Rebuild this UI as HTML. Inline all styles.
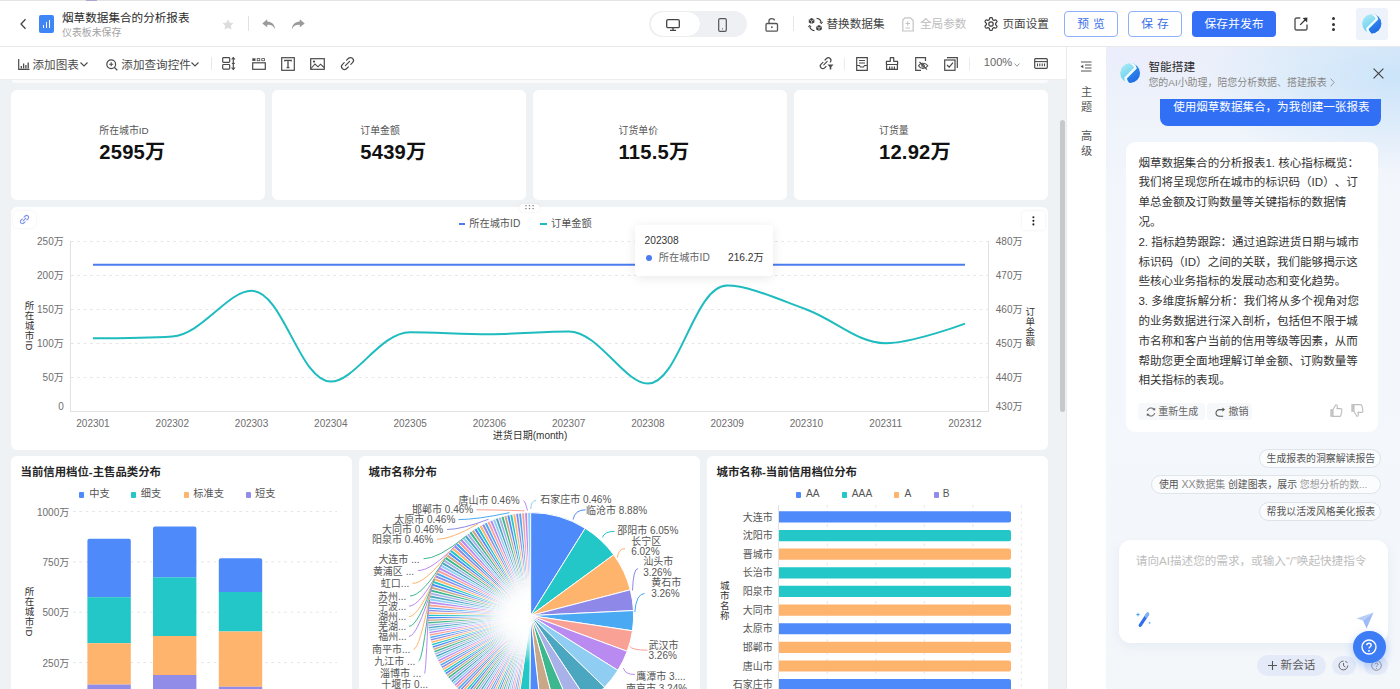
<!DOCTYPE html>
<html lang="zh-CN">
<head>
<meta charset="utf-8">
<title>烟草数据集合的分析报表</title>
<style>
*{box-sizing:border-box;margin:0;padding:0}
html,body{width:1400px;height:689px;overflow:hidden}
body{position:relative;background:#eff2f5;text-spacing-trim:space-all;font-family:"Liberation Sans","Noto Sans CJK SC",sans-serif;color:#333}
.a{position:absolute}
.t{position:absolute;white-space:nowrap;line-height:1}
svg{display:block;overflow:visible}
#hdr{left:0;top:0;width:1400px;height:47px;background:#fff;border-bottom:1px solid #e9e9ec}
#tb{left:0;top:47px;width:1066px;height:33px;background:#fff;border-bottom:1px solid #ebedf0}
.btn{position:absolute;top:11px;height:26px;border-radius:4px;font-size:11.8px;text-align:center;line-height:24px}
.card{position:absolute;background:#fff;border-radius:6px}
.kl{font-size:9.9px;color:#555}
.kv{font-size:20.2px;font-weight:bold;color:#111;letter-spacing:0.2px}
.ax{font-size:10px;color:#6e6e6e}
.ttl{font-size:11.4px;font-weight:bold;color:#262626}
.lg{font-size:10.2px;color:#555}
#side{left:1066px;top:47px;width:40px;height:642px;background:#fff;border-left:1px solid #e8eaee}
#ai{left:1106px;top:47px;width:294px;height:642px;background:#f4f7fa;overflow:hidden}
.msg{font-size:11.55px;color:#333;line-height:19.8px}
.pill{position:absolute;height:19px;border:1px solid #dfe3ea;border-radius:10px;background:rgba(255,255,255,.6);font-size:9.9px;color:#555;line-height:17.5px;padding:0 6.5px;white-space:nowrap}
</style>
</head>
<body>
<!-- HEADER -->
<div id="hdr" class="a">
  <div class="a" style="left:0;top:0;width:1400px;height:1px;background:#e4e4e6"></div>
  <div class="a" style="left:86px;top:0;width:11px;height:1px;background:#a9a6d6"></div>
  <!-- back arrow -->
  <svg class="a" style="left:19px;top:18px" width="9" height="12" viewBox="0 0 9 12"><path d="M6.5 1.2 L2 6 L6.5 10.8" fill="none" stroke="#444" stroke-width="1.3"/></svg>
  <!-- logo -->
  <div class="a" style="left:38.5px;top:15px;width:15px;height:17.5px;border-radius:2px;background:#3f86f5"></div>
  <div class="a" style="left:42.5px;top:24.5px;width:1.6px;height:3.5px;background:#fff"></div>
  <div class="a" style="left:45.5px;top:22px;width:1.6px;height:6px;background:#fff"></div>
  <div class="a" style="left:48.5px;top:19.5px;width:1.6px;height:8.5px;background:#fff"></div>
  <div class="t" style="left:62px;top:11.9px;font-size:11.6px;color:#2b2b2b">烟草数据集合的分析报表</div>
  <div class="t" style="left:62px;top:28.4px;font-size:9.9px;color:#a3a3a3">仪表板未保存</div>
  <!-- star -->
  <svg class="a" style="left:222px;top:18.5px" width="12" height="11" viewBox="0 0 12 11"><path d="M6 0.3 L7.7 3.7 L11.5 4.1 L8.7 6.7 L9.5 10.6 L6 8.7 L2.5 10.6 L3.3 6.7 L0.5 4.1 L4.3 3.7 Z" fill="#dcdcdc"/></svg>
  <div class="a" style="left:248px;top:16px;width:1px;height:15px;background:#e2e2e2"></div>
  <!-- undo / redo -->
  <svg class="a" style="left:262px;top:18.5px" width="14" height="11" viewBox="0 0 14 11"><path d="M5.2 0.3 L0.3 4.4 L5.2 8.3 L5.2 5.9 C9 5.6 11.5 7 13.2 10.5 C12.8 6 10.3 2.8 5.2 2.6 Z" fill="#9a9a9a"/></svg>
  <svg class="a" style="left:291px;top:18.5px" width="14" height="11" viewBox="0 0 14 11"><path d="M8.8 0.3 L13.7 4.4 L8.8 8.3 L8.8 5.9 C5 5.6 2.5 7 0.8 10.5 C1.2 6 3.7 2.8 8.8 2.6 Z" fill="#9a9a9a"/></svg>
  <!-- device toggle -->
  <div class="a" style="left:649px;top:11px;width:98px;height:26px;border-radius:13px;background:#eef0f3"></div>
  <div class="a" style="left:650.5px;top:12.2px;width:49px;height:23.6px;border-radius:12px;background:#fff;box-shadow:0 0 1px rgba(0,0,0,.08)"></div>
  <svg class="a" style="left:666px;top:18.5px" width="14" height="12" viewBox="0 0 14 12"><rect x="0.7" y="0.7" width="12.6" height="8" rx="1.3" fill="none" stroke="#444" stroke-width="1.3"/><path d="M7 8.7 V11 M4 11.3 H10" stroke="#444" stroke-width="1.3"/></svg>
  <svg class="a" style="left:718px;top:17.5px" width="9" height="14" viewBox="0 0 9 14"><rect x="0.7" y="0.7" width="7.6" height="12.6" rx="1.3" fill="none" stroke="#555" stroke-width="1.2"/><circle cx="4.5" cy="10.8" r="0.6" fill="#555"/></svg>
  <!-- lock -->
  <svg class="a" style="left:765px;top:16.5px" width="14" height="15" viewBox="0 0 14 15"><path d="M4 6.5 V3.8 C4 1 9.5 1 9.5 3.5" fill="none" stroke="#555" stroke-width="1.3"/><rect x="1" y="6.5" width="11.5" height="7.6" rx="1.2" fill="none" stroke="#555" stroke-width="1.3"/><rect x="6.1" y="9.3" width="1.5" height="1.8" fill="#555"/></svg>
  <div class="a" style="left:793px;top:16px;width:1px;height:15px;background:#e6e6e6"></div>
  <!-- 替换数据集 -->
  <svg class="a" style="left:808px;top:16.5px" width="15" height="15" viewBox="0 0 15 15"><path d="M3.6 0.8999999999999999 L6.4 2.4 L6.4 5.6 L3.6 7.1 L0.8000000000000003 5.6 L0.8000000000000003 2.4 Z" fill="#3d3d3d"/><path d="M1.0 2.5 L3.6 4 L6.2 2.5 M3.6 4 V7" stroke="#fff" stroke-width="0.6" fill="none"/><path d="M11 7.9 L13.8 9.4 L13.8 12.6 L11 14.1 L8.2 12.6 L8.2 9.4 Z" fill="#3d3d3d"/><path d="M8.4 9.5 L11 11 L13.6 9.5 M11 11 V14" stroke="#fff" stroke-width="0.6" fill="none"/><path d="M8.6 1.4 C11 1.6 12.8 3.2 13.3 5.6" fill="none" stroke="#3d3d3d" stroke-width="1.15"/><path d="M11.8 5 L13.4 6.8 L14.6 4.8" fill="none" stroke="#3d3d3d" stroke-width="1"/><path d="M6.4 13.6 C4 13.4 2.2 11.8 1.7 9.4" fill="none" stroke="#3d3d3d" stroke-width="1.15"/><path d="M3.2 10 L1.6 8.2 L0.4 10.2" fill="none" stroke="#3d3d3d" stroke-width="1"/></svg>
  <div class="t" style="left:826.5px;top:17.5px;font-size:11.6px;color:#444">替换数据集</div>
  <svg class="a" style="left:901.5px;top:16.5px" width="12" height="15" viewBox="0 0 12 15"><path d="M3 0.8 H8.5 L11.2 3.5 V14 H0.8 V3 Z" fill="none" stroke="#c4c4c4" stroke-width="1.2"/><path d="M3.5 6.5 H8 M5.75 4.3 V8.7 M3.5 11 H8" stroke="#c4c4c4" stroke-width="1.1"/></svg>
  <div class="t" style="left:920px;top:17.5px;font-size:11.6px;color:#bdbdbd">全局参数</div>
  <svg class="a" style="left:983.5px;top:16.5px" width="14" height="14" viewBox="0 0 14 14"><path d="M7.00 0.50 L7.45 0.52 L7.90 0.56 L8.25 1.11 L8.49 1.82 L8.64 2.50 L8.87 2.80 L9.16 2.94 L9.44 3.10 L9.70 3.28 L10.08 3.33 L10.74 3.12 L11.47 2.97 L12.12 3.00 L12.39 3.37 L12.63 3.75 L12.84 4.15 L13.03 4.57 L12.73 5.14 L12.23 5.70 L11.72 6.17 L11.57 6.52 L11.60 6.84 L11.60 7.16 L11.57 7.48 L11.72 7.83 L12.23 8.30 L12.73 8.86 L13.03 9.43 L12.84 9.85 L12.63 10.25 L12.39 10.63 L12.12 11.00 L11.47 11.03 L10.74 10.88 L10.08 10.67 L9.70 10.72 L9.44 10.90 L9.16 11.06 L8.87 11.20 L8.64 11.50 L8.49 12.18 L8.25 12.89 L7.90 13.44 L7.45 13.48 L7.00 13.50 L6.55 13.48 L6.10 13.44 L5.75 12.89 L5.51 12.18 L5.36 11.50 L5.13 11.20 L4.84 11.06 L4.56 10.90 L4.30 10.72 L3.92 10.67 L3.26 10.88 L2.53 11.03 L1.88 11.00 L1.61 10.63 L1.37 10.25 L1.16 9.85 L0.97 9.43 L1.27 8.86 L1.77 8.30 L2.28 7.83 L2.43 7.48 L2.40 7.16 L2.40 6.84 L2.43 6.52 L2.28 6.17 L1.77 5.70 L1.27 5.14 L0.97 4.57 L1.16 4.15 L1.37 3.75 L1.61 3.37 L1.88 3.00 L2.53 2.97 L3.26 3.12 L3.92 3.33 L4.30 3.28 L4.56 3.10 L4.84 2.94 L5.13 2.80 L5.36 2.50 L5.51 1.82 L5.75 1.11 L6.10 0.56 L6.55 0.52 Z" fill="none" stroke="#444" stroke-width="1.25" stroke-linejoin="round"/><circle cx="7" cy="7" r="2.2" fill="none" stroke="#444" stroke-width="1.25"/></svg>
  <div class="t" style="left:1002.5px;top:17.5px;font-size:11.6px;color:#444">页面设置</div>
  <!-- buttons -->
  <div class="btn" style="left:1064px;width:54px;border:1px solid #8fb1f7;color:#3a6fe8;letter-spacing:4px;text-indent:4px">预览</div>
  <div class="btn" style="left:1128px;width:54px;border:1px solid #8fb1f7;color:#3a6fe8;letter-spacing:4px;text-indent:4px">保存</div>
  <div class="btn" style="left:1192px;width:84px;background:#3370f5;color:#fff;line-height:26px">保存并发布</div>
  <svg class="a" style="left:1294px;top:17px" width="14" height="14" viewBox="0 0 14 14"><path d="M6.3 1 H2.5 C1.6 1 1 1.6 1 2.5 V11.5 C1 12.4 1.6 13 2.5 13 H11.5 C12.4 13 13 12.4 13 11.5 V7.5" fill="none" stroke="#555" stroke-width="1.4"/><path d="M6.2 7.8 L11.5 2.5" fill="none" stroke="#333" stroke-width="1.2"/><path d="M13.4 0.6 L13.1 5.4 L8.6 0.9 Z" fill="#333"/></svg>
  <div class="a" style="left:1332px;top:16.5px;width:3px;height:3px;border-radius:2px;background:#333"></div>
  <div class="a" style="left:1332px;top:22.5px;width:3px;height:3px;border-radius:2px;background:#333"></div>
  <div class="a" style="left:1332px;top:28.4px;width:3px;height:3px;border-radius:2px;background:#333"></div>
  <div class="a" style="left:1355.5px;top:7.5px;width:32.5px;height:32.5px;border-radius:3px;background:#eef2fb"></div>
  <svg class="a" style="left:1361.7px;top:14.2px" width="19.4" height="19.4" viewBox="0 0 20 20"><defs><linearGradient id="lgha" x1="0" y1="0" x2="0.6" y2="1"><stop offset="0" stop-color="#b5eef8"/><stop offset="1" stop-color="#55c8ea"/></linearGradient><linearGradient id="lghb" x1="0.3" y1="0" x2="0.7" y2="1"><stop offset="0" stop-color="#3f95f0"/><stop offset="1" stop-color="#1c66e2"/></linearGradient><clipPath id="cph"><circle cx="10" cy="10" r="10"/></clipPath></defs><g clip-path="url(#cph)"><circle cx="10" cy="10" r="10" fill="url(#lgha)"/><path d="M11.8 0.2 C14.5 1 16.4 3 16.8 5.6 L7.2 15.4 C7.2 17 8 18.8 9.6 20.5 L21 20.5 L21 -0.5 Z" fill="url(#lghb)"/><path d="M10.6 -0.4 C13.2 0.8 15 2.8 15.4 5.2 L5.4 15 C5.6 17.2 7 19.2 8.8 20.8" fill="none" stroke="#f4fbff" stroke-width="2.4" stroke-linejoin="round"/></g></svg>
</div>
<!-- TOOLBAR -->
<div id="tb" class="a">
  <svg class="a" style="left:17.5px;top:11.5px" width="12" height="11" viewBox="0 0 12 11"><path d="M0.7 0 V10.3 H11.5" fill="none" stroke="#4a4a4a" stroke-width="1.2"/><path d="M3.3 7 V9.5 M5.6 4.5 V9.5 M7.9 6 V9.5 M10.2 3.5 V9.5" stroke="#4a4a4a" stroke-width="1.3"/></svg>
  <div class="t" style="left:32.5px;top:11.5px;font-size:11.6px;color:#4a4a4a">添加图表</div>
  <svg class="a" style="left:79.5px;top:15px" width="8" height="5" viewBox="0 0 8 5"><path d="M0.5 0.5 L4 4 L7.5 0.5" fill="none" stroke="#4a4a4a" stroke-width="1.1"/></svg>
  <svg class="a" style="left:105.5px;top:11.5px" width="12" height="12" viewBox="0 0 12 12"><circle cx="5.2" cy="5.2" r="4.4" fill="none" stroke="#4a4a4a" stroke-width="1.2"/><path d="M8.4 8.4 L11.3 11.3" stroke="#4a4a4a" stroke-width="1.3"/><path d="M3.2 5.2 H7.2 M5.2 3.2 V7.2" stroke="#4a4a4a" stroke-width="1.1"/></svg>
  <div class="t" style="left:121.3px;top:11.5px;font-size:11.6px;color:#4a4a4a">添加查询控件</div>
  <svg class="a" style="left:190.5px;top:15px" width="8" height="5" viewBox="0 0 8 5"><path d="M0.5 0.5 L4 4 L7.5 0.5" fill="none" stroke="#4a4a4a" stroke-width="1.1"/></svg>
  <div class="a" style="left:210.5px;top:10px;width:1px;height:13px;background:#e8e8e8"></div>
  <svg class="a" style="left:222px;top:10px" width="14" height="13" viewBox="0 0 14 13"><rect x="0.7" y="0.7" width="7" height="4.6" rx="0.8" fill="none" stroke="#4a4a4a" stroke-width="1.2"/><rect x="0.7" y="7.5" width="7" height="4.6" rx="0.8" fill="none" stroke="#4a4a4a" stroke-width="1.2"/><path d="M11.3 0.5 V12.5" stroke="#4a4a4a" stroke-width="1.2"/><path d="M9.6 2.5 L11.3 0.6 L13 2.5 M9.6 10.5 L11.3 12.4 L13 10.5" fill="none" stroke="#4a4a4a" stroke-width="1.1"/><path d="M9.8 6.4 H12.8" stroke="#4a4a4a" stroke-width="1.1"/></svg>
  <svg class="a" style="left:252px;top:10.5px" width="14" height="12" viewBox="0 0 14 12"><rect x="0.3" y="0.3" width="3.2" height="2.6" fill="#4a4a4a"/><rect x="5.2" y="0.6" width="2.6" height="2.1" fill="none" stroke="#4a4a4a" stroke-width="0.8"/><rect x="9.8" y="0.6" width="2.6" height="2.1" fill="none" stroke="#4a4a4a" stroke-width="0.8"/><rect x="0.7" y="4.8" width="12.6" height="6.5" fill="none" stroke="#4a4a4a" stroke-width="1.2"/></svg>
  <svg class="a" style="left:281px;top:10px" width="14" height="14" viewBox="0 0 14 14"><rect x="0.7" y="0.7" width="12.6" height="12.6" fill="none" stroke="#4a4a4a" stroke-width="1.2"/><path d="M3.8 4.4 V3.4 H10.2 V4.4 M7 3.4 V10.6 M5.6 10.6 H8.4" fill="none" stroke="#4a4a4a" stroke-width="1.3"/></svg>
  <svg class="a" style="left:310px;top:10.5px" width="15" height="12" viewBox="0 0 15 12"><rect x="0.7" y="0.7" width="13.6" height="10.6" fill="none" stroke="#4a4a4a" stroke-width="1.2"/><path d="M1 10.5 L5 6 L8 8.8 L10.5 6.2 L14 9.5" fill="none" stroke="#4a4a4a" stroke-width="1.1"/><circle cx="4" cy="3.6" r="1.1" fill="#4a4a4a"/></svg>
  <svg class="a" style="left:340.5px;top:10px" width="13" height="13" viewBox="0 0 13 13"><path d="M5.6 3.2 L7.3 1.5 C8.5 0.3 10.5 0.3 11.6 1.4 C12.7 2.5 12.7 4.5 11.5 5.7 L9.8 7.4 M7.4 9.8 L5.7 11.5 C4.5 12.7 2.5 12.7 1.4 11.6 C0.3 10.5 0.3 8.5 1.5 7.3 L3.2 5.6 M4.4 8.6 L8.6 4.4" fill="none" stroke="#4a4a4a" stroke-width="1.2" stroke-linecap="round"/></svg>
  <svg class="a" style="left:820px;top:10px" width="14" height="13" viewBox="0 0 14 13"><path d="M5 3 L6.5 1.5 C7.5 0.5 9.2 0.5 10.2 1.5 C11.1 2.4 11.1 4 10.3 5 M6 9.5 L4.7 10.8 C3.7 11.8 2 11.8 1.1 10.8 C0.1 9.8 0.1 8.2 1.1 7.2 L3 5.3 M3.8 7.8 L7.2 4.4" fill="none" stroke="#4a4a4a" stroke-width="1.2" stroke-linecap="round"/><path d="M7.5 7.5 H13.5 L11.3 10 V12.5 H9.7 V10 Z" fill="#4a4a4a"/></svg>
  <div class="a" style="left:844px;top:10.5px;width:1px;height:12px;background:#ebebeb"></div>
  <svg class="a" style="left:856px;top:10px" width="12" height="14" viewBox="0 0 12 14"><path d="M0.7 0.7 H11.3 V13.3 H0.7 Z" fill="none" stroke="#4a4a4a" stroke-width="1.2"/><path d="M3 3.5 H9 M3 6 H9 M0.7 8.5 H3.5 L4.5 10 H7.5 L8.5 8.5 H11.3" fill="none" stroke="#4a4a4a" stroke-width="1.1"/></svg>
  <svg class="a" style="left:885px;top:10px" width="14" height="13" viewBox="0 0 14 13"><path d="M5.3 0.7 H8.7 V4.3 H12.6 V7.5 H1.4 V4.3 H5.3 Z" fill="none" stroke="#4a4a4a" stroke-width="1.2" stroke-linejoin="round"/><path d="M1.6 7.5 V12.3 H12.4 V7.5 M4.6 9.5 V12.3 M7 9.5 V12.3 M9.4 9.5 V12.3" fill="none" stroke="#4a4a4a" stroke-width="1.2"/></svg>
  <svg class="a" style="left:914.5px;top:10px" width="14" height="14" viewBox="0 0 14 14"><path d="M6 13.3 H0.7 V0.7 H10.5 V4" fill="none" stroke="#4a4a4a" stroke-width="1.2"/><path d="M3.5 8.8 C5.5 5.3 10.5 5.3 12.8 8.8 C10.5 12.3 5.5 12.3 3.5 8.8 Z" fill="none" stroke="#4a4a4a" stroke-width="1.1"/><circle cx="8.1" cy="8.8" r="1.4" fill="none" stroke="#4a4a4a" stroke-width="1"/><path d="M4.5 5 L12 12.6" stroke="#4a4a4a" stroke-width="1.1"/></svg>
  <svg class="a" style="left:944px;top:10px" width="14" height="14" viewBox="0 0 14 14"><rect x="0.7" y="3" width="10.3" height="10.3" fill="none" stroke="#4a4a4a" stroke-width="1.2"/><path d="M3 0.7 H13.3 V11" fill="none" stroke="#4a4a4a" stroke-width="1.2"/><path d="M3 8 L5.2 10.2 L9 5.6" fill="none" stroke="#4a4a4a" stroke-width="1.2"/></svg>
  <div class="a" style="left:969px;top:10.5px;width:1px;height:12px;background:#ebebeb"></div>
  <div class="t" style="left:983.8px;top:10.3px;font-size:11.1px;color:#666">100%</div>
  <svg class="a" style="left:1014px;top:15.5px" width="6" height="4" viewBox="0 0 6 4"><path d="M0.4 0.5 L3 3.2 L5.6 0.5" fill="none" stroke="#888" stroke-width="0.9"/></svg>
  <svg class="a" style="left:1034px;top:11px" width="14" height="11" viewBox="0 0 14 11"><rect x="0.7" y="0.7" width="12.6" height="9.6" rx="1" fill="none" stroke="#4a4a4a" stroke-width="1.2"/><path d="M0.7 3.6 H13.3" stroke="#4a4a4a" stroke-width="1.1"/><path d="M3.5 5.5 V8.3 M5.8 5.5 V8.3 M8.2 5.5 V8.3 M10.5 5.5 V8.3" stroke="#4a4a4a" stroke-width="1.1"/></svg>
</div>
<!-- CANVAS -->
<div class="a" style="left:12px;top:80px;width:1036px;height:3.3px;background:#fbfbfc;border-radius:0 0 4px 4px"></div>
<div class="card" style="left:11px;top:90px;width:254px;height:110px"></div>
<div class="card" style="left:272px;top:90px;width:254px;height:110px"></div>
<div class="card" style="left:533px;top:90px;width:254px;height:110px"></div>
<div class="card" style="left:794px;top:90px;width:254px;height:110px"></div>
<div class="t kl" style="left:99.3px;top:126.3px">所在城市ID</div>
<div class="t kv" style="left:99.3px;top:141.5px">2595万</div>
<div class="t kl" style="left:360.3px;top:126.3px">订单金额</div>
<div class="t kv" style="left:360.3px;top:141.5px">5439万</div>
<div class="t kl" style="left:618.5px;top:126.3px">订货单价</div>
<div class="t kv" style="left:618.5px;top:141.5px">115.5万</div>
<div class="t kl" style="left:879px;top:126.3px">订货量</div>
<div class="t kv" style="left:879px;top:141.5px">12.92万</div>
<div class="card" style="left:11px;top:207px;width:1037px;height:243px"></div>
<div class="a" style="left:519px;top:203.5px;width:20.8px;height:8.8px;border-radius:4.4px;background:#fff;box-shadow:0 0 1.5px rgba(0,0,0,.14)"></div>
<svg class="a" style="left:524px;top:204px" width="11" height="6" viewBox="0 0 11 6"><rect x="1.3" y="1.1" width="1.3" height="1.2" fill="#7a7a7a"/><rect x="1.3" y="4" width="1.3" height="1.2" fill="#7a7a7a"/><rect x="4.85" y="1.1" width="1.3" height="1.2" fill="#7a7a7a"/><rect x="4.85" y="4" width="1.3" height="1.2" fill="#7a7a7a"/><rect x="8.4" y="1.1" width="1.3" height="1.2" fill="#7a7a7a"/><rect x="8.4" y="4" width="1.3" height="1.2" fill="#7a7a7a"/></svg>
<div class="a" style="left:13px;top:210.5px;width:23px;height:17.5px;border-radius:5px;background:#fff;box-shadow:0 0 3px rgba(0,0,0,.07)"></div>
<svg class="a" style="left:20px;top:215px" width="9" height="9" viewBox="0 0 9 9"><path d="M4 2.2 L5.2 1 C6 0.2 7.3 0.2 8 1 C8.8 1.7 8.8 3 8 3.8 L6.8 5 M5 6.8 L3.8 8 C3 8.8 1.7 8.8 1 8 C0.2 7.3 0.2 6 1 5.2 L2.2 4 M3.1 5.9 L5.9 3.1" fill="none" stroke="#7f93e8" stroke-width="1.1" stroke-linecap="round"/></svg>
<div class="a" style="left:1021.5px;top:211.2px;width:23.6px;height:19px;border-radius:2px;background:#fff;box-shadow:0 0 2.5px rgba(0,0,0,.09)"></div>
<svg class="a" style="left:1031px;top:215px" width="5" height="12" viewBox="0 0 5 12"><circle cx="2.4" cy="2.3" r="1.05" fill="#222"/><circle cx="2.4" cy="5.85" r="1.05" fill="#222"/><circle cx="2.4" cy="9.4" r="1.05" fill="#222"/></svg>
<svg class="a" style="left:0;top:0" width="1066" height="689" viewBox="0 0 1066 689">
<path d="M71 241.5 H988" stroke="#e5e5e5" stroke-width="1" stroke-dasharray="2.6 3.8"/>
<path d="M71 275.5 H988" stroke="#e5e5e5" stroke-width="1" stroke-dasharray="2.6 3.8"/>
<path d="M71 309.5 H988" stroke="#e5e5e5" stroke-width="1" stroke-dasharray="2.6 3.8"/>
<path d="M71 343.5 H988" stroke="#e5e5e5" stroke-width="1" stroke-dasharray="2.6 3.8"/>
<path d="M71 377.5 H988" stroke="#e5e5e5" stroke-width="1" stroke-dasharray="2.6 3.8"/>
<path d="M70.5 241 V412 M988.5 241 V412 M70 411.5 H989" stroke="#e2e2e2" stroke-width="1" fill="none"/>
<path d="M93 264.7 H965" stroke="#4a7cf0" stroke-width="2" fill="none"/>
<path d="M93 338.3 C93 338.3 146.51 338.3 172.27 336.5 C202 334.42 227.59 290.8 251.54 290.8 C283.08 290.8 299.55 381.6 330.81 381.6 C355.04 381.6 380.07 332.2 410.08 332.2 C435.56 332.2 461.61 334.2 489.35 334.2 C517.1 334.2 543.36 331.4 568.62 331.4 C598.85 331.4 624.05 383.6 647.89 383.6 C679.54 383.6 693.67 285.6 727.16 285.6 C749.16 285.6 779.23 299.62 806.43 309.5 C834.72 319.78 857.21 343.2 885.7 343.2 C912.7 343.2 964.97 323.6 964.97 323.6" stroke="#1fbcbf" stroke-width="2" fill="none"/>
</svg>
<div class="t ax" style="right:1336.3px;top:236.6px">250万</div>
<div class="t ax" style="right:1336.3px;top:270.6px">200万</div>
<div class="t ax" style="right:1336.3px;top:304.6px">150万</div>
<div class="t ax" style="right:1336.3px;top:338.6px">100万</div>
<div class="t ax" style="right:1336.3px;top:373.1px">50万</div>
<div class="t ax" style="right:1336.3px;top:402.3px">0</div>
<div class="t ax" style="left:995.8px;top:236.8px">480万</div>
<div class="t ax" style="left:995.8px;top:270.6px">470万</div>
<div class="t ax" style="left:995.8px;top:304.8px">460万</div>
<div class="t ax" style="left:995.8px;top:338.9px">450万</div>
<div class="t ax" style="left:995.8px;top:373.1px">440万</div>
<div class="t ax" style="left:995.8px;top:402px">430万</div>
<div class="t ax" style="left:63px;width:60px;text-align:center;top:418.6px">202301</div>
<div class="t ax" style="left:142.27px;width:60px;text-align:center;top:418.6px">202302</div>
<div class="t ax" style="left:221.54px;width:60px;text-align:center;top:418.6px">202303</div>
<div class="t ax" style="left:300.81px;width:60px;text-align:center;top:418.6px">202304</div>
<div class="t ax" style="left:380.08px;width:60px;text-align:center;top:418.6px">202305</div>
<div class="t ax" style="left:459.35px;width:60px;text-align:center;top:418.6px">202306</div>
<div class="t ax" style="left:538.62px;width:60px;text-align:center;top:418.6px">202307</div>
<div class="t ax" style="left:617.89px;width:60px;text-align:center;top:418.6px">202308</div>
<div class="t ax" style="left:697.16px;width:60px;text-align:center;top:418.6px">202309</div>
<div class="t ax" style="left:776.43px;width:60px;text-align:center;top:418.6px">202310</div>
<div class="t ax" style="left:855.7px;width:60px;text-align:center;top:418.6px">202311</div>
<div class="t ax" style="left:934.97px;width:60px;text-align:center;top:418.6px">202312</div>
<div class="t" style="left:470px;width:120px;text-align:center;top:430.8px;font-size:10px;color:#333">进货日期(month)</div>
<div class="a" style="left:23.5px;top:301px;writing-mode:vertical-rl;font-size:9.5px;letter-spacing:0.35px;line-height:10px;color:#333;white-space:nowrap">所在城市ID</div>
<div class="a" style="left:1024.2px;top:306.5px;writing-mode:vertical-rl;font-size:9.5px;letter-spacing:0.35px;line-height:10px;color:#333;white-space:nowrap">订单金额</div>
<div class="a" style="left:458.6px;top:222.6px;width:6.5px;height:2px;background:#4a7cf0"></div>
<div class="t lg" style="left:469.3px;top:218.6px">所在城市ID</div>
<div class="a" style="left:540px;top:222.6px;width:6.5px;height:2px;background:#1fbcbf"></div>
<div class="t lg" style="left:551px;top:218.6px">订单金额</div>
<div class="a" style="left:635px;top:225.3px;width:138px;height:50.6px;border-radius:3px;background:#fff;box-shadow:0 2px 12px rgba(0,0,0,.09)"></div>
<div class="t" style="left:644.6px;top:235.6px;font-size:10.2px;color:#333">202308</div>
<div class="a" style="left:646.3px;top:254.6px;width:6px;height:6px;border-radius:3px;background:#4a7cf0"></div>
<div class="t" style="left:658.8px;top:253.2px;font-size:10.2px;color:#666">所在城市ID</div>
<div class="t" style="left:728px;top:253.2px;font-size:10.2px;color:#333">216.2万</div>
<div class="card" style="left:11px;top:456.2px;width:341px;height:250px"></div>
<div class="card" style="left:359px;top:456.2px;width:341px;height:250px"></div>
<div class="card" style="left:707px;top:456.2px;width:341px;height:250px"></div>
<div class="t ttl" style="left:20.5px;top:467.2px">当前信用档位-主售品类分布</div>
<div class="t ttl" style="left:368.5px;top:467.2px">城市名称分布</div>
<div class="t ttl" style="left:716.5px;top:467.2px">城市名称-当前信用档位分布</div>
<div class="a" style="left:78.6px;top:492px;width:5.5px;height:5.5px;border-radius:1px;background:#4f8afb"></div>
<div class="t lg" style="left:89.3px;top:489px">中支</div>
<div class="a" style="left:130.6px;top:492px;width:5.5px;height:5.5px;border-radius:1px;background:#24c7c7"></div>
<div class="t lg" style="left:140.8px;top:489px">细支</div>
<div class="a" style="left:183.5px;top:492px;width:5.5px;height:5.5px;border-radius:1px;background:#ffb46e"></div>
<div class="t lg" style="left:193.3px;top:489px">标准支</div>
<div class="a" style="left:245.6px;top:492px;width:5.5px;height:5.5px;border-radius:1px;background:#918ce8"></div>
<div class="t lg" style="left:255px;top:489px">短支</div>
<svg class="a" style="left:0;top:0" width="1066" height="689" viewBox="0 0 1066 689">
<path d="M73 511.5 H337" stroke="#e5e5e5" stroke-width="1" stroke-dasharray="2.6 3.8"/>
<path d="M73 561.8 H337" stroke="#e5e5e5" stroke-width="1" stroke-dasharray="2.6 3.8"/>
<path d="M73 612.2 H337" stroke="#e5e5e5" stroke-width="1" stroke-dasharray="2.6 3.8"/>
<path d="M73 662.6 H337" stroke="#e5e5e5" stroke-width="1" stroke-dasharray="2.6 3.8"/>
<path d="M87.4 597.2 V540.8 Q87.4 538.8 89.4 538.8 H128.8 Q130.8 538.8 130.8 540.8 V597.2 Z" fill="#4f8afb"/>
<rect x="87.4" y="597.2" width="43.4" height="46" fill="#24c7c7"/>
<rect x="87.4" y="643.2" width="43.4" height="41.4" fill="#ffb46e"/>
<rect x="87.4" y="684.6" width="43.4" height="15.4" fill="#918ce8"/>
<path d="M153 577.4 V528.4 Q153 526.4 155 526.4 H194.4 Q196.4 526.4 196.4 528.4 V577.4 Z" fill="#4f8afb"/>
<rect x="153" y="577.4" width="43.4" height="58.6" fill="#24c7c7"/>
<rect x="153" y="636" width="43.4" height="39" fill="#ffb46e"/>
<rect x="153" y="675" width="43.4" height="25" fill="#918ce8"/>
<path d="M218.8 592 V560.3 Q218.8 558.3 220.8 558.3 H260.2 Q262.2 558.3 262.2 560.3 V592 Z" fill="#4f8afb"/>
<rect x="218.8" y="592" width="43.4" height="39.5" fill="#24c7c7"/>
<rect x="218.8" y="631.5" width="43.4" height="55.3" fill="#ffb46e"/>
<rect x="218.8" y="686.8" width="43.4" height="13.2" fill="#918ce8"/>
<path d="M827.3 505 V689" stroke="#e5e5e5" stroke-width="1" stroke-dasharray="2.6 3.8"/>
<path d="M875.8 505 V689" stroke="#e5e5e5" stroke-width="1" stroke-dasharray="2.6 3.8"/>
<path d="M924.3 505 V689" stroke="#e5e5e5" stroke-width="1" stroke-dasharray="2.6 3.8"/>
<path d="M972.8 505 V689" stroke="#e5e5e5" stroke-width="1" stroke-dasharray="2.6 3.8"/>
<path d="M1021.3 505 V689" stroke="#e5e5e5" stroke-width="1" stroke-dasharray="2.6 3.8"/>
<path d="M778.5 505 V689" stroke="#e2e2e2" stroke-width="1"/>
<path d="M779 511.3 H1009 Q1011 511.3 1011 513.3 V520.5 Q1011 522.5 1009 522.5 H779 Z" fill="#4f8afb"/>
<path d="M779 529.94 H1009 Q1011 529.94 1011 531.94 V539.14 Q1011 541.14 1009 541.14 H779 Z" fill="#24c7c7"/>
<path d="M779 548.58 H1009 Q1011 548.58 1011 550.58 V557.78 Q1011 559.78 1009 559.78 H779 Z" fill="#ffb46e"/>
<path d="M779 567.22 H1009 Q1011 567.22 1011 569.22 V576.42 Q1011 578.42 1009 578.42 H779 Z" fill="#24c7c7"/>
<path d="M779 585.86 H1009 Q1011 585.86 1011 587.86 V595.06 Q1011 597.06 1009 597.06 H779 Z" fill="#24c7c7"/>
<path d="M779 604.5 H1009 Q1011 604.5 1011 606.5 V613.7 Q1011 615.7 1009 615.7 H779 Z" fill="#ffb46e"/>
<path d="M779 623.14 H1009 Q1011 623.14 1011 625.14 V632.34 Q1011 634.34 1009 634.34 H779 Z" fill="#4f8afb"/>
<path d="M779 641.78 H1009 Q1011 641.78 1011 643.78 V650.98 Q1011 652.98 1009 652.98 H779 Z" fill="#ffb46e"/>
<path d="M779 660.42 H1009 Q1011 660.42 1011 662.42 V669.62 Q1011 671.62 1009 671.62 H779 Z" fill="#ffb46e"/>
<path d="M779 679.06 H1009 Q1011 679.06 1011 681.06 V688.26 Q1011 690.26 1009 690.26 H779 Z" fill="#4f8afb"/>
</svg>
<div class="t ax" style="right:1330.8px;top:507.8px">1000万</div>
<div class="t ax" style="right:1330.8px;top:557.8px">750万</div>
<div class="t ax" style="right:1330.8px;top:608.4px">500万</div>
<div class="t ax" style="right:1330.8px;top:658.7px">250万</div>
<div class="a" style="left:23.6px;top:587px;writing-mode:vertical-rl;font-size:9.5px;letter-spacing:0.35px;line-height:10px;color:#333;white-space:nowrap">所在城市ID</div>
<div class="t ax" style="right:627.2px;top:512.5px;color:#555">大连市</div>
<div class="t ax" style="right:627.2px;top:531.14px;color:#555">沈阳市</div>
<div class="t ax" style="right:627.2px;top:549.78px;color:#555">晋城市</div>
<div class="t ax" style="right:627.2px;top:568.42px;color:#555">长治市</div>
<div class="t ax" style="right:627.2px;top:587.06px;color:#555">阳泉市</div>
<div class="t ax" style="right:627.2px;top:605.7px;color:#555">大同市</div>
<div class="t ax" style="right:627.2px;top:624.34px;color:#555">太原市</div>
<div class="t ax" style="right:627.2px;top:642.98px;color:#555">邯郸市</div>
<div class="t ax" style="right:627.2px;top:661.62px;color:#555">唐山市</div>
<div class="t ax" style="right:627.2px;top:680.26px;color:#555">石家庄市</div>
<div class="a" style="left:718.8px;top:580.8px;writing-mode:vertical-rl;font-size:9.5px;letter-spacing:0.35px;line-height:10px;color:#333;white-space:nowrap">城市名称</div>
<div class="a" style="left:795.8px;top:492px;width:5.5px;height:5.5px;border-radius:1px;background:#4f8afb"></div>
<div class="t lg" style="left:806px;top:489px">AA</div>
<div class="a" style="left:841.8px;top:492px;width:5.5px;height:5.5px;border-radius:1px;background:#24c7c7"></div>
<div class="t lg" style="left:851.8px;top:489px">AAA</div>
<div class="a" style="left:893.5px;top:492px;width:5.5px;height:5.5px;border-radius:1px;background:#ffb46e"></div>
<div class="t lg" style="left:904.4px;top:489px">A</div>
<div class="a" style="left:933.8px;top:492px;width:5.5px;height:5.5px;border-radius:1px;background:#918ce8"></div>
<div class="t lg" style="left:942.8px;top:489px">B</div>
<svg class="a" style="left:0;top:0" width="1066" height="689" viewBox="0 0 1066 689">
<path d="M530.6 615.6 L530.6 512.6 A103 103 0 0 1 585.18 528.25 Z" fill="#4f8afb" stroke="#fff" stroke-width="1" stroke-linejoin="round"/>
<path d="M530.6 615.6 L585.18 528.25 A103 103 0 0 1 613.72 554.77 Z" fill="#24c7c7" stroke="#fff" stroke-width="1" stroke-linejoin="round"/>
<path d="M530.6 615.6 L613.72 554.77 A103 103 0 0 1 630.32 589.81 Z" fill="#ffb46e" stroke="#fff" stroke-width="1" stroke-linejoin="round"/>
<path d="M530.6 615.6 L630.32 589.81 A103 103 0 0 1 633.48 610.57 Z" fill="#8e89e8" stroke="#fff" stroke-width="1" stroke-linejoin="round"/>
<path d="M530.6 615.6 L633.48 610.57 A103 103 0 0 1 632.47 630.82 Z" fill="#4aa9f3" stroke="#fff" stroke-width="1" stroke-linejoin="round"/>
<path d="M530.6 615.6 L632.47 630.82 A103 103 0 0 1 627.2 651.33 Z" fill="#f9a194" stroke="#fff" stroke-width="1" stroke-linejoin="round"/>
<path d="M530.6 615.6 L627.2 651.33 A103 103 0 0 1 617.85 670.33 Z" fill="#b98bf0" stroke="#fff" stroke-width="1" stroke-linejoin="round"/>
<path d="M530.6 615.6 L617.85 670.33 A103 103 0 0 1 604.57 687.28 Z" fill="#8fcdf2" stroke="#fff" stroke-width="1" stroke-linejoin="round"/>
<path d="M530.6 615.6 L604.57 687.28 A103 103 0 0 1 587.75 701.29 Z" fill="#4ba6c0" stroke="#fff" stroke-width="1" stroke-linejoin="round"/>
<path d="M530.6 615.6 L587.75 701.29 A103 103 0 0 1 572 709.91 Z" fill="#a8b1e8" stroke="#fff" stroke-width="1" stroke-linejoin="round"/>
<path d="M530.6 615.6 L572 709.91 A103 103 0 0 1 557.08 715.14 Z" fill="#3db78e" stroke="#fff" stroke-width="1" stroke-linejoin="round"/>
<path d="M530.6 615.6 L557.08 715.14 A103 103 0 0 1 541.9 717.98 Z" fill="#c9a887" stroke="#fff" stroke-width="1" stroke-linejoin="round"/>
<path d="M530.6 615.6 L541.9 717.98 A103 103 0 0 1 529.52 718.59 Z" fill="#4f8afb" stroke="#fff" stroke-width="1" stroke-linejoin="round"/>
<path d="M530.6 615.6 L529.52 718.59 A103 103 0 0 1 516.09 717.57 Z" fill="#24c7c7" stroke="#fff" stroke-width="1" stroke-linejoin="round"/>
<path d="M530.6 615.6 L516.09 717.57 A103 103 0 0 1 513.64 717.19 Z" fill="#ffb46e" stroke="#fff" stroke-width="0.75" stroke-linejoin="round"/>
<path d="M530.6 615.6 L513.64 717.19 A103 103 0 0 1 511.2 716.76 Z" fill="#8e89e8" stroke="#fff" stroke-width="0.75" stroke-linejoin="round"/>
<path d="M530.6 615.6 L511.2 716.76 A103 103 0 0 1 508.77 716.26 Z" fill="#4aa9f3" stroke="#fff" stroke-width="0.75" stroke-linejoin="round"/>
<path d="M530.6 615.6 L508.77 716.26 A103 103 0 0 1 506.35 715.71 Z" fill="#f9a194" stroke="#fff" stroke-width="0.75" stroke-linejoin="round"/>
<path d="M530.6 615.6 L506.35 715.71 A103 103 0 0 1 503.95 715.09 Z" fill="#b98bf0" stroke="#fff" stroke-width="0.75" stroke-linejoin="round"/>
<path d="M530.6 615.6 L503.95 715.09 A103 103 0 0 1 501.56 714.42 Z" fill="#8fcdf2" stroke="#fff" stroke-width="0.75" stroke-linejoin="round"/>
<path d="M530.6 615.6 L501.56 714.42 A103 103 0 0 1 499.19 713.69 Z" fill="#4ba6c0" stroke="#fff" stroke-width="0.75" stroke-linejoin="round"/>
<path d="M530.6 615.6 L499.19 713.69 A103 103 0 0 1 496.84 712.91 Z" fill="#a8b1e8" stroke="#fff" stroke-width="0.75" stroke-linejoin="round"/>
<path d="M530.6 615.6 L496.84 712.91 A103 103 0 0 1 494.51 712.07 Z" fill="#3db78e" stroke="#fff" stroke-width="0.75" stroke-linejoin="round"/>
<path d="M530.6 615.6 L494.51 712.07 A103 103 0 0 1 492.2 711.17 Z" fill="#c9a887" stroke="#fff" stroke-width="0.75" stroke-linejoin="round"/>
<path d="M530.6 615.6 L492.2 711.17 A103 103 0 0 1 489.91 710.22 Z" fill="#4f8afb" stroke="#fff" stroke-width="0.75" stroke-linejoin="round"/>
<path d="M530.6 615.6 L489.91 710.22 A103 103 0 0 1 487.64 709.21 Z" fill="#24c7c7" stroke="#fff" stroke-width="0.75" stroke-linejoin="round"/>
<path d="M530.6 615.6 L487.64 709.21 A103 103 0 0 1 485.4 708.15 Z" fill="#ffb46e" stroke="#fff" stroke-width="0.75" stroke-linejoin="round"/>
<path d="M530.6 615.6 L485.4 708.15 A103 103 0 0 1 483.19 707.04 Z" fill="#8e89e8" stroke="#fff" stroke-width="0.75" stroke-linejoin="round"/>
<path d="M530.6 615.6 L483.19 707.04 A103 103 0 0 1 481 705.87 Z" fill="#4aa9f3" stroke="#fff" stroke-width="0.75" stroke-linejoin="round"/>
<path d="M530.6 615.6 L481 705.87 A103 103 0 0 1 478.84 704.65 Z" fill="#f9a194" stroke="#fff" stroke-width="0.75" stroke-linejoin="round"/>
<path d="M530.6 615.6 L478.84 704.65 A103 103 0 0 1 476.71 703.38 Z" fill="#b98bf0" stroke="#fff" stroke-width="0.75" stroke-linejoin="round"/>
<path d="M530.6 615.6 L476.71 703.38 A103 103 0 0 1 474.62 702.06 Z" fill="#8fcdf2" stroke="#fff" stroke-width="0.75" stroke-linejoin="round"/>
<path d="M530.6 615.6 L474.62 702.06 A103 103 0 0 1 472.55 700.69 Z" fill="#4ba6c0" stroke="#fff" stroke-width="0.75" stroke-linejoin="round"/>
<path d="M530.6 615.6 L472.55 700.69 A103 103 0 0 1 470.52 699.26 Z" fill="#a8b1e8" stroke="#fff" stroke-width="0.75" stroke-linejoin="round"/>
<path d="M530.6 615.6 L470.52 699.26 A103 103 0 0 1 468.53 697.79 Z" fill="#3db78e" stroke="#fff" stroke-width="0.75" stroke-linejoin="round"/>
<path d="M530.6 615.6 L468.53 697.79 A103 103 0 0 1 466.57 696.28 Z" fill="#c9a887" stroke="#fff" stroke-width="0.75" stroke-linejoin="round"/>
<path d="M530.6 615.6 L466.57 696.28 A103 103 0 0 1 464.64 694.71 Z" fill="#4f8afb" stroke="#fff" stroke-width="0.75" stroke-linejoin="round"/>
<path d="M530.6 615.6 L464.64 694.71 A103 103 0 0 1 462.76 693.1 Z" fill="#24c7c7" stroke="#fff" stroke-width="0.75" stroke-linejoin="round"/>
<path d="M530.6 615.6 L462.76 693.1 A103 103 0 0 1 460.91 691.45 Z" fill="#ffb46e" stroke="#fff" stroke-width="0.75" stroke-linejoin="round"/>
<path d="M530.6 615.6 L460.91 691.45 A103 103 0 0 1 459.11 689.75 Z" fill="#8e89e8" stroke="#fff" stroke-width="0.75" stroke-linejoin="round"/>
<path d="M530.6 615.6 L459.11 689.75 A103 103 0 0 1 457.34 688 Z" fill="#4aa9f3" stroke="#fff" stroke-width="0.75" stroke-linejoin="round"/>
<path d="M530.6 615.6 L457.34 688 A103 103 0 0 1 455.62 686.22 Z" fill="#f9a194" stroke="#fff" stroke-width="0.75" stroke-linejoin="round"/>
<path d="M530.6 615.6 L455.62 686.22 A103 103 0 0 1 453.94 684.4 Z" fill="#b98bf0" stroke="#fff" stroke-width="0.75" stroke-linejoin="round"/>
<path d="M530.6 615.6 L453.94 684.4 A103 103 0 0 1 452.31 682.53 Z" fill="#8fcdf2" stroke="#fff" stroke-width="0.75" stroke-linejoin="round"/>
<path d="M530.6 615.6 L452.31 682.53 A103 103 0 0 1 450.72 680.63 Z" fill="#4ba6c0" stroke="#fff" stroke-width="0.75" stroke-linejoin="round"/>
<path d="M530.6 615.6 L450.72 680.63 A103 103 0 0 1 449.18 678.69 Z" fill="#a8b1e8" stroke="#fff" stroke-width="0.75" stroke-linejoin="round"/>
<path d="M530.6 615.6 L449.18 678.69 A103 103 0 0 1 447.69 676.71 Z" fill="#3db78e" stroke="#fff" stroke-width="0.75" stroke-linejoin="round"/>
<path d="M530.6 615.6 L447.69 676.71 A103 103 0 0 1 446.24 674.69 Z" fill="#c9a887" stroke="#fff" stroke-width="0.75" stroke-linejoin="round"/>
<path d="M530.6 615.6 L446.24 674.69 A103 103 0 0 1 444.84 672.65 Z" fill="#4f8afb" stroke="#fff" stroke-width="0.75" stroke-linejoin="round"/>
<path d="M530.6 615.6 L444.84 672.65 A103 103 0 0 1 443.49 670.57 Z" fill="#24c7c7" stroke="#fff" stroke-width="0.75" stroke-linejoin="round"/>
<path d="M530.6 615.6 L443.49 670.57 A103 103 0 0 1 442.19 668.45 Z" fill="#ffb46e" stroke="#fff" stroke-width="0.75" stroke-linejoin="round"/>
<path d="M530.6 615.6 L442.19 668.45 A103 103 0 0 1 440.95 666.31 Z" fill="#8e89e8" stroke="#fff" stroke-width="0.75" stroke-linejoin="round"/>
<path d="M530.6 615.6 L440.95 666.31 A103 103 0 0 1 439.75 664.14 Z" fill="#4aa9f3" stroke="#fff" stroke-width="0.75" stroke-linejoin="round"/>
<path d="M530.6 615.6 L439.75 664.14 A103 103 0 0 1 438.61 661.94 Z" fill="#f9a194" stroke="#fff" stroke-width="0.75" stroke-linejoin="round"/>
<path d="M530.6 615.6 L438.61 661.94 A103 103 0 0 1 437.52 659.71 Z" fill="#b98bf0" stroke="#fff" stroke-width="0.75" stroke-linejoin="round"/>
<path d="M530.6 615.6 L437.52 659.71 A103 103 0 0 1 436.49 657.46 Z" fill="#8fcdf2" stroke="#fff" stroke-width="0.75" stroke-linejoin="round"/>
<path d="M530.6 615.6 L436.49 657.46 A103 103 0 0 1 435.51 655.18 Z" fill="#4ba6c0" stroke="#fff" stroke-width="0.75" stroke-linejoin="round"/>
<path d="M530.6 615.6 L435.51 655.18 A103 103 0 0 1 434.58 652.88 Z" fill="#a8b1e8" stroke="#fff" stroke-width="0.75" stroke-linejoin="round"/>
<path d="M530.6 615.6 L434.58 652.88 A103 103 0 0 1 433.71 650.56 Z" fill="#3db78e" stroke="#fff" stroke-width="0.75" stroke-linejoin="round"/>
<path d="M530.6 615.6 L433.71 650.56 A103 103 0 0 1 432.9 648.22 Z" fill="#c9a887" stroke="#fff" stroke-width="0.75" stroke-linejoin="round"/>
<path d="M530.6 615.6 L432.9 648.22 A103 103 0 0 1 432.14 645.86 Z" fill="#4f8afb" stroke="#fff" stroke-width="0.75" stroke-linejoin="round"/>
<path d="M530.6 615.6 L432.14 645.86 A103 103 0 0 1 431.44 643.48 Z" fill="#24c7c7" stroke="#fff" stroke-width="0.75" stroke-linejoin="round"/>
<path d="M530.6 615.6 L431.44 643.48 A103 103 0 0 1 430.8 641.08 Z" fill="#ffb46e" stroke="#fff" stroke-width="0.75" stroke-linejoin="round"/>
<path d="M530.6 615.6 L430.8 641.08 A103 103 0 0 1 430.22 638.67 Z" fill="#8e89e8" stroke="#fff" stroke-width="0.75" stroke-linejoin="round"/>
<path d="M530.6 615.6 L430.22 638.67 A103 103 0 0 1 429.69 636.25 Z" fill="#4aa9f3" stroke="#fff" stroke-width="0.75" stroke-linejoin="round"/>
<path d="M530.6 615.6 L429.69 636.25 A103 103 0 0 1 429.22 633.82 Z" fill="#f9a194" stroke="#fff" stroke-width="0.75" stroke-linejoin="round"/>
<path d="M530.6 615.6 L429.22 633.82 A103 103 0 0 1 428.81 631.37 Z" fill="#b98bf0" stroke="#fff" stroke-width="0.75" stroke-linejoin="round"/>
<path d="M530.6 615.6 L428.81 631.37 A103 103 0 0 1 428.46 628.92 Z" fill="#8fcdf2" stroke="#fff" stroke-width="0.75" stroke-linejoin="round"/>
<path d="M530.6 615.6 L428.46 628.92 A103 103 0 0 1 428.17 626.46 Z" fill="#4ba6c0" stroke="#fff" stroke-width="0.75" stroke-linejoin="round"/>
<path d="M530.6 615.6 L428.17 626.46 A103 103 0 0 1 427.94 623.99 Z" fill="#a8b1e8" stroke="#fff" stroke-width="0.75" stroke-linejoin="round"/>
<path d="M530.6 615.6 L427.94 623.99 A103 103 0 0 1 427.77 621.51 Z" fill="#3db78e" stroke="#fff" stroke-width="0.75" stroke-linejoin="round"/>
<path d="M530.6 615.6 L427.77 621.51 A103 103 0 0 1 427.66 619.04 Z" fill="#c9a887" stroke="#fff" stroke-width="0.75" stroke-linejoin="round"/>
<path d="M530.6 615.6 L427.66 619.04 A103 103 0 0 1 427.6 616.56 Z" fill="#4f8afb" stroke="#fff" stroke-width="0.75" stroke-linejoin="round"/>
<path d="M530.6 615.6 L427.6 616.56 A103 103 0 0 1 427.61 614.08 Z" fill="#24c7c7" stroke="#fff" stroke-width="0.75" stroke-linejoin="round"/>
<path d="M530.6 615.6 L427.61 614.08 A103 103 0 0 1 427.68 611.6 Z" fill="#ffb46e" stroke="#fff" stroke-width="0.75" stroke-linejoin="round"/>
<path d="M530.6 615.6 L427.68 611.6 A103 103 0 0 1 427.8 609.13 Z" fill="#8e89e8" stroke="#fff" stroke-width="0.75" stroke-linejoin="round"/>
<path d="M530.6 615.6 L427.8 609.13 A103 103 0 0 1 427.99 606.65 Z" fill="#4aa9f3" stroke="#fff" stroke-width="0.75" stroke-linejoin="round"/>
<path d="M530.6 615.6 L427.99 606.65 A103 103 0 0 1 428.29 603.67 Z" fill="#f9a194" stroke="#fff" stroke-width="0.75" stroke-linejoin="round"/>
<path d="M530.6 615.6 L428.29 603.67 A103 103 0 0 1 428.68 600.7 Z" fill="#b98bf0" stroke="#fff" stroke-width="0.75" stroke-linejoin="round"/>
<path d="M530.6 615.6 L428.68 600.7 A103 103 0 0 1 429.16 597.74 Z" fill="#8fcdf2" stroke="#fff" stroke-width="0.75" stroke-linejoin="round"/>
<path d="M530.6 615.6 L429.16 597.74 A103 103 0 0 1 429.72 594.8 Z" fill="#4ba6c0" stroke="#fff" stroke-width="0.75" stroke-linejoin="round"/>
<path d="M530.6 615.6 L429.72 594.8 A103 103 0 0 1 430.37 591.87 Z" fill="#a8b1e8" stroke="#fff" stroke-width="0.75" stroke-linejoin="round"/>
<path d="M530.6 615.6 L430.37 591.87 A103 103 0 0 1 431.1 588.97 Z" fill="#3db78e" stroke="#fff" stroke-width="0.75" stroke-linejoin="round"/>
<path d="M530.6 615.6 L431.1 588.97 A103 103 0 0 1 431.92 586.08 Z" fill="#c9a887" stroke="#fff" stroke-width="0.75" stroke-linejoin="round"/>
<path d="M530.6 615.6 L431.92 586.08 A103 103 0 0 1 432.82 583.23 Z" fill="#4f8afb" stroke="#fff" stroke-width="0.75" stroke-linejoin="round"/>
<path d="M530.6 615.6 L432.82 583.23 A103 103 0 0 1 433.8 580.4 Z" fill="#24c7c7" stroke="#fff" stroke-width="0.75" stroke-linejoin="round"/>
<path d="M530.6 615.6 L433.8 580.4 A103 103 0 0 1 434.87 577.59 Z" fill="#ffb46e" stroke="#fff" stroke-width="0.75" stroke-linejoin="round"/>
<path d="M530.6 615.6 L434.87 577.59 A103 103 0 0 1 436.01 574.83 Z" fill="#8e89e8" stroke="#fff" stroke-width="0.75" stroke-linejoin="round"/>
<path d="M530.6 615.6 L436.01 574.83 A103 103 0 0 1 437.24 572.09 Z" fill="#4aa9f3" stroke="#fff" stroke-width="0.75" stroke-linejoin="round"/>
<path d="M530.6 615.6 L437.24 572.09 A103 103 0 0 1 438.55 569.39 Z" fill="#f9a194" stroke="#fff" stroke-width="0.75" stroke-linejoin="round"/>
<path d="M530.6 615.6 L438.55 569.39 A103 103 0 0 1 439.93 566.74 Z" fill="#b98bf0" stroke="#fff" stroke-width="0.75" stroke-linejoin="round"/>
<path d="M530.6 615.6 L439.93 566.74 A103 103 0 0 1 441.39 564.12 Z" fill="#8fcdf2" stroke="#fff" stroke-width="0.75" stroke-linejoin="round"/>
<path d="M530.6 615.6 L441.39 564.12 A103 103 0 0 1 442.92 561.55 Z" fill="#4ba6c0" stroke="#fff" stroke-width="0.75" stroke-linejoin="round"/>
<path d="M530.6 615.6 L442.92 561.55 A103 103 0 0 1 444.53 559.02 Z" fill="#a8b1e8" stroke="#fff" stroke-width="0.75" stroke-linejoin="round"/>
<path d="M530.6 615.6 L444.53 559.02 A103 103 0 0 1 446.22 556.54 Z" fill="#3db78e" stroke="#fff" stroke-width="0.75" stroke-linejoin="round"/>
<path d="M530.6 615.6 L446.22 556.54 A103 103 0 0 1 447.97 554.11 Z" fill="#c9a887" stroke="#fff" stroke-width="0.75" stroke-linejoin="round"/>
<path d="M530.6 615.6 L447.97 554.11 A103 103 0 0 1 449.79 551.73 Z" fill="#4f8afb" stroke="#fff" stroke-width="0.75" stroke-linejoin="round"/>
<path d="M530.6 615.6 L449.79 551.73 A103 103 0 0 1 451.69 549.41 Z" fill="#24c7c7" stroke="#fff" stroke-width="0.75" stroke-linejoin="round"/>
<path d="M530.6 615.6 L451.69 549.41 A103 103 0 0 1 453.64 547.14 Z" fill="#ffb46e" stroke="#fff" stroke-width="0.75" stroke-linejoin="round"/>
<path d="M530.6 615.6 L453.64 547.14 A103 103 0 0 1 455.67 544.93 Z" fill="#8e89e8" stroke="#fff" stroke-width="0.75" stroke-linejoin="round"/>
<path d="M530.6 615.6 L455.67 544.93 A103 103 0 0 1 457.76 542.78 Z" fill="#4aa9f3" stroke="#fff" stroke-width="0.75" stroke-linejoin="round"/>
<path d="M530.6 615.6 L457.76 542.78 A103 103 0 0 1 459.91 540.69 Z" fill="#f9a194" stroke="#fff" stroke-width="0.75" stroke-linejoin="round"/>
<path d="M530.6 615.6 L459.91 540.69 A103 103 0 0 1 462.11 538.67 Z" fill="#b98bf0" stroke="#fff" stroke-width="0.75" stroke-linejoin="round"/>
<path d="M530.6 615.6 L462.11 538.67 A103 103 0 0 1 464.38 536.71 Z" fill="#8fcdf2" stroke="#fff" stroke-width="0.75" stroke-linejoin="round"/>
<path d="M530.6 615.6 L464.38 536.71 A103 103 0 0 1 466.7 534.81 Z" fill="#4ba6c0" stroke="#fff" stroke-width="0.75" stroke-linejoin="round"/>
<path d="M530.6 615.6 L466.7 534.81 A103 103 0 0 1 469.08 532.99 Z" fill="#a8b1e8" stroke="#fff" stroke-width="0.75" stroke-linejoin="round"/>
<path d="M530.6 615.6 L469.08 532.99 A103 103 0 0 1 471.51 531.23 Z" fill="#3db78e" stroke="#fff" stroke-width="0.75" stroke-linejoin="round"/>
<path d="M530.6 615.6 L471.51 531.23 A103 103 0 0 1 473.99 529.55 Z" fill="#c9a887" stroke="#fff" stroke-width="0.75" stroke-linejoin="round"/>
<path d="M530.6 615.6 L473.99 529.55 A103 103 0 0 1 476.52 527.94 Z" fill="#4f8afb" stroke="#fff" stroke-width="0.75" stroke-linejoin="round"/>
<path d="M530.6 615.6 L476.52 527.94 A103 103 0 0 1 479.09 526.4 Z" fill="#24c7c7" stroke="#fff" stroke-width="0.75" stroke-linejoin="round"/>
<path d="M530.6 615.6 L479.09 526.4 A103 103 0 0 1 481.71 524.94 Z" fill="#ffb46e" stroke="#fff" stroke-width="0.75" stroke-linejoin="round"/>
<path d="M530.6 615.6 L481.71 524.94 A103 103 0 0 1 484.37 523.56 Z" fill="#8e89e8" stroke="#fff" stroke-width="0.75" stroke-linejoin="round"/>
<path d="M530.6 615.6 L484.37 523.56 A103 103 0 0 1 487.06 522.25 Z" fill="#4aa9f3" stroke="#fff" stroke-width="0.75" stroke-linejoin="round"/>
<path d="M530.6 615.6 L487.06 522.25 A103 103 0 0 1 489.8 521.03 Z" fill="#f9a194" stroke="#fff" stroke-width="0.75" stroke-linejoin="round"/>
<path d="M530.6 615.6 L489.8 521.03 A103 103 0 0 1 492.56 519.88 Z" fill="#b98bf0" stroke="#fff" stroke-width="0.75" stroke-linejoin="round"/>
<path d="M530.6 615.6 L492.56 519.88 A103 103 0 0 1 495.37 518.81 Z" fill="#8fcdf2" stroke="#fff" stroke-width="0.75" stroke-linejoin="round"/>
<path d="M530.6 615.6 L495.37 518.81 A103 103 0 0 1 498.2 517.83 Z" fill="#4ba6c0" stroke="#fff" stroke-width="0.75" stroke-linejoin="round"/>
<path d="M530.6 615.6 L498.2 517.83 A103 103 0 0 1 501.05 516.93 Z" fill="#a8b1e8" stroke="#fff" stroke-width="0.75" stroke-linejoin="round"/>
<path d="M530.6 615.6 L501.05 516.93 A103 103 0 0 1 503.94 516.11 Z" fill="#3db78e" stroke="#fff" stroke-width="0.75" stroke-linejoin="round"/>
<path d="M530.6 615.6 L503.94 516.11 A103 103 0 0 1 506.84 515.38 Z" fill="#c9a887" stroke="#fff" stroke-width="0.75" stroke-linejoin="round"/>
<path d="M530.6 615.6 L506.84 515.38 A103 103 0 0 1 509.77 514.73 Z" fill="#4f8afb" stroke="#fff" stroke-width="0.75" stroke-linejoin="round"/>
<path d="M530.6 615.6 L509.77 514.73 A103 103 0 0 1 512.71 514.17 Z" fill="#24c7c7" stroke="#fff" stroke-width="0.75" stroke-linejoin="round"/>
<path d="M530.6 615.6 L512.71 514.17 A103 103 0 0 1 515.67 513.69 Z" fill="#ffb46e" stroke="#fff" stroke-width="0.75" stroke-linejoin="round"/>
<path d="M530.6 615.6 L515.67 513.69 A103 103 0 0 1 518.64 513.3 Z" fill="#8e89e8" stroke="#fff" stroke-width="0.75" stroke-linejoin="round"/>
<path d="M530.6 615.6 L518.64 513.3 A103 103 0 0 1 521.62 512.99 Z" fill="#4aa9f3" stroke="#fff" stroke-width="0.75" stroke-linejoin="round"/>
<path d="M530.6 615.6 L521.62 512.99 A103 103 0 0 1 524.61 512.77 Z" fill="#f9a194" stroke="#fff" stroke-width="0.75" stroke-linejoin="round"/>
<path d="M530.6 615.6 L524.61 512.77 A103 103 0 0 1 527.6 512.64 Z" fill="#b98bf0" stroke="#fff" stroke-width="0.75" stroke-linejoin="round"/>
<path d="M530.6 615.6 L527.6 512.64 A103 103 0 0 1 530.6 512.6 Z" fill="#8fcdf2" stroke="#fff" stroke-width="0.75" stroke-linejoin="round"/>
<defs><radialGradient id="pw" cx="530.6" cy="615.6" r="48" gradientUnits="userSpaceOnUse"><stop offset="0" stop-color="#fff" stop-opacity="1"/><stop offset="0.45" stop-color="#fff" stop-opacity="0.85"/><stop offset="1" stop-color="#fff" stop-opacity="0"/></radialGradient></defs>
<path d="M530 567.6 A48 48 0 0 0 530 663.6 Z" fill="url(#pw)"/>
<path d="M585.5 509.8 Q574.96 509.8 573.1 519.5" fill="none" stroke="#4f8afb" stroke-width="1"/>
<path d="M614.5 531.4 Q604.3 531.4 602.5 537.5" fill="none" stroke="#24c7c7" stroke-width="1"/>
<path d="M625 548.6 Q618.45 548.6 617.3 557.8" fill="none" stroke="#ffb46e" stroke-width="1"/>
<path d="M638 568.5 Q633.33 568.5 632.5 590.5" fill="none" stroke="#8e89e8" stroke-width="1"/>
<path d="M644.6 593.5 Q636.27 593.5 634.8 612" fill="none" stroke="#4aa9f3" stroke-width="1"/>
<path d="M647.5 650.2 Q632.2 650.2 629.5 646.2" fill="none" stroke="#f9a194" stroke-width="1"/>
<path d="M634.8 674.5 Q625.11 674.5 623.4 668.2" fill="none" stroke="#b98bf0" stroke-width="1"/>
<path d="M536 500.5 Q531 500.5 530.8 509" fill="none" stroke="#8fcdf2" stroke-width="1"/>
<path d="M523.5 500.5 Q524.9 500.5 527.5 510.5" fill="none" stroke="#b98bf0" stroke-width="1"/>
<path d="M476.5 509.8 Q493.3 509.8 524.5 510.8" fill="none" stroke="#f9a194" stroke-width="1"/>
<path d="M458.5 519.6 Q476.35 519.6 509.5 512.7" fill="none" stroke="#4aa9f3" stroke-width="1"/>
<path d="M447 529.5 Q461.52 529.5 488.5 519.3" fill="none" stroke="#8e89e8" stroke-width="1"/>
<path d="M437 539.3 Q451.35 539.3 478 523.8" fill="none" stroke="#ffb46e" stroke-width="1"/>
<path d="M423.5 558.8 Q438.02 558.8 465 537" fill="none" stroke="#3db78e" stroke-width="1"/>
<path d="M418 570.6 Q431.65 570.6 457 544" fill="none" stroke="#b98bf0" stroke-width="1"/>
<path d="M412.5 583.4 Q425.62 583.4 450 551" fill="none" stroke="#ffb46e" stroke-width="1"/>
<path d="M410 596 Q422.43 596 445.5 558" fill="none" stroke="#3db78e" stroke-width="1"/>
<path d="M409 606.2 Q420.38 606.2 441.5 565" fill="none" stroke="#b98bf0" stroke-width="1"/>
<path d="M409 616.6 Q418.98 616.6 437.5 572" fill="none" stroke="#ffb46e" stroke-width="1"/>
<path d="M409 626.4 Q417.93 626.4 434.5 579" fill="none" stroke="#3db78e" stroke-width="1"/>
<path d="M409 636.4 Q417.23 636.4 432.5 586" fill="none" stroke="#b98bf0" stroke-width="1"/>
<path d="M413.5 649.3 Q419.45 649.3 430.5 593" fill="none" stroke="#ffb46e" stroke-width="1"/>
<path d="M418.5 661.2 Q422.35 661.2 429.5 600" fill="none" stroke="#3db78e" stroke-width="1"/>
<path d="M424.5 673.6 Q425.9 673.6 428.5 607" fill="none" stroke="#b98bf0" stroke-width="1"/>
</svg>
<div class="t" style="right:880.4px;top:496px;font-size:10px;color:#555">唐山市 0.46%</div>
<div class="t" style="right:926.8px;top:505.4px;font-size:10px;color:#555">邯郸市 0.46%</div>
<div class="t" style="right:944.7px;top:515.2px;font-size:10px;color:#555">太原市 0.46%</div>
<div class="t" style="right:956.8px;top:525.1px;font-size:10px;color:#555">大同市 0.46%</div>
<div class="t" style="right:966.8px;top:535.1px;font-size:10px;color:#555">阳泉市 0.46%</div>
<div class="t" style="right:980.5px;top:554.6px;font-size:10px;color:#555">大连市 ...</div>
<div class="t" style="right:986px;top:566.6px;font-size:10px;color:#555">黄浦区 ...</div>
<div class="t" style="right:990.8px;top:579px;font-size:10px;color:#555">虹口...</div>
<div class="t" style="right:993.6px;top:591.7px;font-size:10px;color:#555">苏州...</div>
<div class="t" style="right:993.6px;top:601.9px;font-size:10px;color:#555">宁波...</div>
<div class="t" style="right:993.6px;top:612.1px;font-size:10px;color:#555">湖州...</div>
<div class="t" style="right:993.6px;top:622px;font-size:10px;color:#555">芜湖...</div>
<div class="t" style="right:993.4px;top:632px;font-size:10px;color:#555">福州...</div>
<div class="t" style="right:989.7px;top:645px;font-size:10px;color:#555">南平市...</div>
<div class="t" style="right:984.7px;top:656.7px;font-size:10px;color:#555">九江市 ...</div>
<div class="t" style="right:978.8px;top:669.1px;font-size:10px;color:#555">淄博市 ...</div>
<div class="t" style="right:972px;top:680px;font-size:10px;color:#555">十堰市 0...</div>
<div class="t" style="left:540.2px;top:495.3px;font-size:10px;color:#555">石家庄市 0.46%</div>
<div class="t" style="left:586px;top:505.7px;font-size:10px;color:#555">临沧市 8.88%</div>
<div class="t" style="left:617.2px;top:526.2px;font-size:10px;color:#555">邵阳市 6.05%</div>
<div class="t" style="left:631.2px;top:536.6px;font-size:10px;color:#555">长宁区</div>
<div class="t" style="left:631.2px;top:547.3px;font-size:10px;color:#555">6.02%</div>
<div class="t" style="left:643.2px;top:557.4px;font-size:10px;color:#555">汕头市</div>
<div class="t" style="left:643.2px;top:567.8px;font-size:10px;color:#555">3.26%</div>
<div class="t" style="left:651.2px;top:578.2px;font-size:10px;color:#555">黄石市</div>
<div class="t" style="left:651.2px;top:589px;font-size:10px;color:#555">3.26%</div>
<div class="t" style="left:648.5px;top:640.7px;font-size:10px;color:#555">武汉市</div>
<div class="t" style="left:648.5px;top:651.4px;font-size:10px;color:#555">3.26%</div>
<div class="t" style="left:636.2px;top:671.7px;font-size:10px;color:#555">鹰潭市 3....</div>
<div class="t" style="left:626px;top:684.3px;font-size:10px;color:#555">南京市 3.24%</div>
<div class="a" style="left:1060px;top:120px;width:5px;height:292px;border-radius:3px;background:#c6c9cc"></div>
<!-- SIDEBAR -->
<div id="side" class="a">
  <svg class="a" style="left:13px;top:13.8px" width="12" height="11" viewBox="0 0 12 11"><path d="M1 1 H11.5 M5 4 H11.5 M5 7 H11.5 M1 10 H11.5" stroke="#555" stroke-width="1.1"/><path d="M0.5 5.5 L3.3 3.8 V7.2 Z" fill="#555"/></svg>
  <div class="t" style="left:14px;top:38px;font-size:11.2px;color:#555;line-height:15.2px;white-space:normal;width:12px">主题</div>
  <div class="t" style="left:14px;top:81.6px;font-size:11.2px;color:#555;line-height:15.2px;white-space:normal;width:12px">高级</div>
</div>
<!-- AI PANEL -->
<div id="ai" class="a">
<div class="a" style="left:0;top:0;width:294px;height:643px;background:linear-gradient(180deg,#eaf0fa 0px,#eef3fb 60px,#f3f6fb 150px,#f4f7fa 643px)"></div>
<div class="a" style="left:0;top:0;width:294px;height:160px;background:radial-gradient(ellipse 190px 95px at 290px 30px,rgba(198,226,249,.85),rgba(205,228,250,0) 100%),radial-gradient(ellipse 160px 60px at 40px 0px,rgba(236,238,251,.9),rgba(236,238,251,0) 100%)"></div>
<div class="a" style="left:54px;top:52.4px;width:221px;height:26.3px;background:#3170f5;border-radius:0 0 8px 8px"></div>
<div class="t" style="left:67.2px;top:54.6px;font-size:11.55px;color:#fff">使用烟草数据集合，为我创建一张报表</div>
<svg class="a" style="left:14.3px;top:15.8px" width="20" height="20" viewBox="0 0 20 20"><defs><linearGradient id="lgpa" x1="0" y1="0" x2="0.6" y2="1"><stop offset="0" stop-color="#b5eef8"/><stop offset="1" stop-color="#55c8ea"/></linearGradient><linearGradient id="lgpb" x1="0.3" y1="0" x2="0.7" y2="1"><stop offset="0" stop-color="#3f95f0"/><stop offset="1" stop-color="#1c66e2"/></linearGradient><clipPath id="cpp"><circle cx="10" cy="10" r="10"/></clipPath></defs><g clip-path="url(#cpp)"><circle cx="10" cy="10" r="10" fill="url(#lgpa)"/><path d="M11.8 0.2 C14.5 1 16.4 3 16.8 5.6 L7.2 15.4 C7.2 17 8 18.8 9.6 20.5 L21 20.5 L21 -0.5 Z" fill="url(#lgpb)"/><path d="M10.6 -0.4 C13.2 0.8 15 2.8 15.4 5.2 L5.4 15 C5.6 17.2 7 19.2 8.8 20.8" fill="none" stroke="#f4fbff" stroke-width="2.4" stroke-linejoin="round"/></g></svg>
<div class="t" style="left:42.4px;top:14.3px;font-size:11.7px;color:#2a2a2a">智能搭建</div>
<div class="t" style="left:42.4px;top:31px;font-size:9.95px;color:#888">您的AI小助理，陪您分析数据、搭建报表</div>
<svg class="a" style="left:223.5px;top:31.3px" width="5" height="9" viewBox="0 0 5 9"><path d="M0.6 0.6 L4.2 4.5 L0.6 8.4" fill="none" stroke="#999" stroke-width="1"/></svg>
<svg class="a" style="left:266.8px;top:20.8px" width="11" height="11" viewBox="0 0 11 11"><path d="M0.6 0.6 L10.4 10.4 M10.4 0.6 L0.6 10.4" stroke="#444" stroke-width="1.2"/></svg>
<div class="a" style="left:19.8px;top:95.4px;width:251.8px;height:289.5px;background:#fff;border-radius:9px"></div>
<div class="a msg" style="left:32.4px;top:106.7px;white-space:nowrap">烟草数据集合的分析报表1. 核心指标概览：<br>我们将呈现您所在城市的标识码（ID）、订<br>单总金额及订购数量等关键指标的数据情<br>况。<br>2. 指标趋势跟踪：通过追踪进货日期与城市<br>标识码（ID）之间的关联，我们能够揭示这<br>些核心业务指标的发展动态和变化趋势。<br>3. 多维度拆解分析：我们将从多个视角对您<br>的业务数据进行深入剖析，包括但不限于城<br>市名称和客户当前的信用等级等因素，从而<br>帮助您更全面地理解订单金额、订购数量等<br>相关指标的表现。</div>
<div class="a" style="left:32.3px;top:355.9px;width:66.4px;height:17.5px;border-radius:4px;background:#f7f8fa"></div>
<svg class="a" style="left:39.6px;top:359.6px" width="10" height="10" viewBox="0 0 10 10"><path d="M7.9 2.1 A4 4 0 0 0 1.2 4" fill="none" stroke="#666" stroke-width="1.05"/><path d="M2.1 7.9 A4 4 0 0 0 8.8 6" fill="none" stroke="#666" stroke-width="1.05"/><path d="M9.3 0.7 L9.1 3.6 L6.3 3 Z" fill="#666"/><path d="M0.7 9.3 L0.9 6.4 L3.7 7 Z" fill="#666"/></svg>
<div class="t" style="left:52.2px;top:359.8px;font-size:10px;color:#666">重新生成</div>
<div class="a" style="left:101.4px;top:355.9px;width:44.5px;height:17.5px;border-radius:4px;background:#f7f8fa"></div>
<svg class="a" style="left:109.2px;top:359.8px" width="10.5" height="10" viewBox="0 0 10.5 10"><path d="M7.8 2.6 H4.6 C2.5 2.6 1 4.1 1 5.9 C1 7.7 2.5 9.2 4.6 9.2 H8.2" fill="none" stroke="#555" stroke-width="1.05"/><path d="M7.4 0.5 L10 2.6 L7.4 4.7 Z" fill="#555"/></svg>
<div class="t" style="left:122.6px;top:359.8px;font-size:10px;color:#666">撤销</div>
<svg class="a" style="left:224px;top:357.2px" width="12.5" height="13" viewBox="0 0 12.5 13"><rect x="0.3" y="5.1" width="2.6" height="7.8" fill="#c4c4c4"/><path d="M3 5.6 L5.8 0.7 C7 0.7 7.6 1.6 7.3 2.8 L6.9 4.6 H10.6 C11.5 4.6 12.1 5.4 11.9 6.2 L10.9 11.3 C10.7 12 10.1 12.4 9.4 12.4 H3 Z" fill="none" stroke="#bdbdbd" stroke-width="1.1" stroke-linejoin="round"/></svg>
<svg class="a" style="left:244.6px;top:357.2px" width="12.5" height="13" viewBox="0 0 12.5 13"><g transform="translate(0 13) scale(1 -1)"><rect x="0.3" y="5.1" width="2.6" height="7.8" fill="#c4c4c4"/><path d="M3 5.6 L5.8 0.7 C7 0.7 7.6 1.6 7.3 2.8 L6.9 4.6 H10.6 C11.5 4.6 12.1 5.4 11.9 6.2 L10.9 11.3 C10.7 12 10.1 12.4 9.4 12.4 H3 Z" fill="none" stroke="#bdbdbd" stroke-width="1.1" stroke-linejoin="round"/></g></svg>
<div class="pill" style="left:153px;top:402.2px;width:122px">生成报表的洞察解读报告</div>
<div class="pill" style="left:45.4px;top:428.4px;width:229.6px">使用 <span style="color:#8a8a8a"><span style="font-size:10.6px">XX</span>数据集</span> 创建图表，展示 <span style="color:#9a9a9a">您想分析的数...</span></div>
<div class="pill" style="left:153px;top:454.9px;width:122px">帮我以活泼风格美化报表</div>
<div class="a" style="left:13.2px;top:493.4px;width:268.8px;height:102.6px;border-radius:12px;background:#fff;box-shadow:0 4px 12px rgba(80,110,180,.08)"></div>
<div class="t" style="left:29.8px;top:508.2px;font-size:11.6px;color:#bdbdbd">请向AI描述您的需求，或输入“/”唤起快捷指令</div>
<svg class="a" style="left:28.5px;top:564px" width="17" height="17" viewBox="0 0 17 17"><path d="M12.6 3.2 L5.2 14.4" stroke="#2f6fee" stroke-width="3.2" stroke-linecap="round"/><path d="M12.6 3.2 L11.3 5.2" stroke="#7fb2f7" stroke-width="3.2" stroke-linecap="round"/><path d="M3 1.3 L3.6 3 L5.3 3.6 L3.6 4.2 L3 5.9 L2.4 4.2 L0.7 3.6 L2.4 3 Z" fill="#4aa3f3"/><path d="M14.6 10.4 L15 11.5 L16.1 11.9 L15 12.3 L14.6 13.4 L14.2 12.3 L13.1 11.9 L14.2 11.5 Z" fill="#4aa3f3"/></svg>
<svg class="a" style="left:249.5px;top:564.5px" width="18" height="17" viewBox="0 0 18 17"><path d="M17.5 0.5 L0.5 6.5 L7 8.6 Z" fill="#b7cdf8"/><path d="M17.5 0.5 L7 8.6 L10.6 16.5 Z" fill="#9dbbf6"/></svg>
<div class="a" style="left:150.5px;top:607.6px;width:69.2px;height:21.2px;border-radius:11px;background:#e4eaf8"></div>
<svg class="a" style="left:161.7px;top:614px" width="9" height="9" viewBox="0 0 9 9"><path d="M4.5 0 V9 M0 4.5 H9" stroke="#555" stroke-width="1.1"/></svg>
<div class="t" style="left:174.6px;top:611.6px;font-size:11.6px;color:#5c5c5c">新会话</div>
<div class="a" style="left:226px;top:608.7px;width:23.7px;height:19.7px;border-radius:10px;background:#e4eaf8"></div>
<svg class="a" style="left:232.4px;top:613.3px" width="11" height="11" viewBox="0 0 11 11"><path d="M9.8 5.5 A4.4 4.4 0 1 1 5.5 1.1" fill="none" stroke="#666" stroke-width="1"/><path d="M5.5 3 V5.7 L7.4 7" fill="none" stroke="#666" stroke-width="1"/><path d="M7.4 1.4 L9.4 2.6" stroke="#666" stroke-width="1"/></svg>
<div class="a" style="left:257.8px;top:608.7px;width:24.2px;height:19.7px;border-radius:10px;background:#e4eaf8"></div>
<svg class="a" style="left:264.5px;top:613.2px" width="11" height="11" viewBox="0 0 11 11"><circle cx="5.5" cy="5.5" r="4.8" fill="none" stroke="#888" stroke-width="0.9"/><path d="M4 4.3 C4 2.6 7 2.6 7 4.3 C7 5.3 5.5 5.4 5.5 6.6" fill="none" stroke="#888" stroke-width="0.9"/><circle cx="5.5" cy="8.2" r="0.55" fill="#888"/></svg>
<div class="a" style="left:247px;top:583.6px;width:32.8px;height:32.8px;border-radius:50%;background:#3c7cf5;box-shadow:0 3px 10px rgba(60,124,245,.35)"></div>
<svg class="a" style="left:255.4px;top:592px" width="16" height="16" viewBox="0 0 16 16"><circle cx="8" cy="8" r="7" fill="none" stroke="#fff" stroke-width="1.4"/><path d="M5.8 6.2 C5.8 3.6 10.2 3.6 10.2 6.2 C10.2 7.7 8 7.9 8 9.6" fill="none" stroke="#fff" stroke-width="1.4"/><circle cx="8" cy="11.9" r="0.9" fill="#fff"/></svg>
</div>
</body>
</html>
